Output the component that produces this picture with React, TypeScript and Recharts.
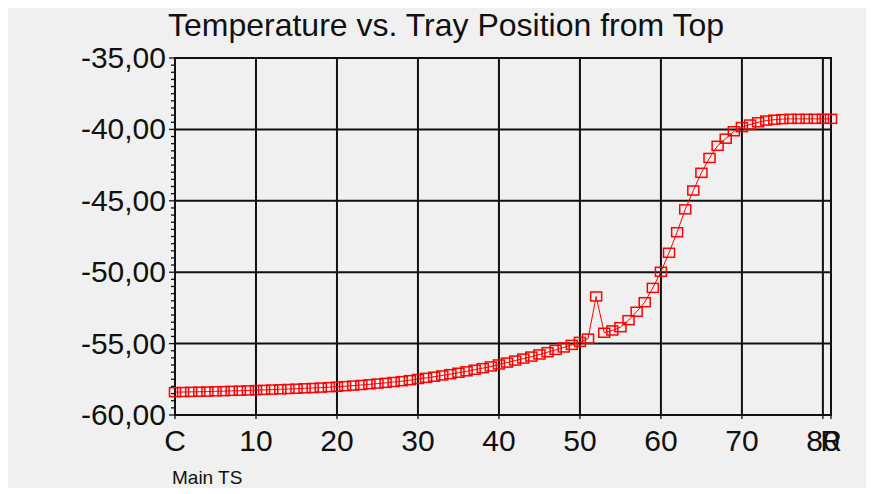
import React from "react";
import { LineChart, Line, XAxis, YAxis, ReferenceLine, ReferenceArea } from "recharts";

const title = "Temperature vs. Tray Position from Top";
const footLabel = "Main TS";

// Temperature per tray position (0 = C, 81 = R)
const temps: number[] = [
  -58.40, -58.39, -58.38, -58.37, -58.36, -58.34, -58.33, -58.31, -58.30, -58.28,
  -58.26, -58.24, -58.22, -58.20, -58.18, -58.16, -58.13, -58.11, -58.08, -58.05,
  -58.02, -57.98, -57.94, -57.90, -57.85, -57.80, -57.75, -57.69, -57.63, -57.56,
  -57.48, -57.40, -57.32, -57.23, -57.14, -57.04, -56.94, -56.83, -56.72, -56.60,
  -56.46, -56.33, -56.19, -56.05, -55.91, -55.76, -55.60, -55.44, -55.27, -55.09,
  -54.88, -54.65, -51.70, -54.24, -54.08, -53.85, -53.36, -52.77, -52.10, -51.10,
  -49.97, -48.64, -47.20, -45.60, -44.28, -43.04, -42.00, -41.15, -40.65, -40.13,
  -39.84, -39.66, -39.50, -39.38, -39.32, -39.28, -39.26, -39.26, -39.26, -39.26,
  -39.26, -39.26,
];

const xTicks = [0, 10, 20, 30, 40, 50, 60, 70, 80, 81];
const xTickNames: Record<number, string> = { 0: "C", 81: "R" };
const yMajorTicks = [-60, -55, -50, -45, -40, -35];
const yMinorStep = 0.5;
const xGrid = [10, 20, 30, 40, 50, 60, 70, 80];
const yGrid = [-55, -50, -45, -40];

const data = temps.map((t, i) => ({ tray: i, temp: t }));

const yTicks: number[] = [];
for (let v = -60; v <= -35 + 1e-9; v += yMinorStep) yTicks.push(Math.round(v * 10) / 10);

const FONT = "'Liberation Sans', Arial, sans-serif";
const PLOT_LEFT = 167;
const PLOT_BOTTOM = 407;

const renderYTick = (props: any) => {
  const { y, payload } = props;
  const x = PLOT_LEFT;
  const v = payload.value as number;
  const major = yMajorTicks.some((m) => Math.abs(m - v) < 1e-6);
  return (
    <g key={"yt" + v}>
      <line x1={x - (major ? 6 : 4)} x2={x} y1={y} y2={y} stroke="#111" strokeWidth={1.3} />
      {major && (
        <text x={x - 9} y={y} dy={10} textAnchor="end" fontSize={30} fontFamily={FONT} fill="#111">
          {v.toFixed(2).replace(".", ",")}
        </text>
      )}
    </g>
  );
};

const renderXTick = (props: any) => {
  const { x, payload } = props;
  const y = PLOT_BOTTOM;
  const v = payload.value as number;
  const label = xTickNames[v] ?? String(v);
  return (
    <g key={"xt" + v}>
      <line x1={x} x2={x} y1={y} y2={y + 4} stroke="#111" strokeWidth={1.3} />
      <text x={x} y={y + 36} textAnchor="middle" fontSize={30} fontFamily={FONT} fill="#111">
        {label}
      </text>
    </g>
  );
};

const renderDot = (props: any) => {
  const { cx, cy, index } = props;
  if (cx == null || cy == null) return <g key={"d" + index} />;
  return (
    <rect key={"d" + index} x={cx - 5.5} y={cy - 4.5} width={11} height={9} fill="none" stroke="#ff0000" strokeWidth={1.5} />
  );
};

export default function App() {
  return (
    <div style={{ position: "relative", width: 858, height: 480, background: "#f0f0f0", fontFamily: FONT }}>
      <div
        style={{
          position: "absolute",
          left: 438,
          top: 1,
          transform: "translateX(-50%)",
          whiteSpace: "nowrap",
          fontSize: 32,
          lineHeight: "32px",
          color: "#111",
        }}
      >
        {title}
      </div>
      <div style={{ position: "absolute", left: 164, top: 460, fontSize: 19, lineHeight: "19px", color: "#111" }}>
        {footLabel}
      </div>
      <LineChart width={858} height={480} data={data} margin={{ top: 50, right: 35, bottom: 13, left: 7 }}>
        <XAxis
          dataKey="tray"
          type="number"
          domain={[0, 81]}
          ticks={xTicks}
          interval={0}
          height={60}
          tickSize={0}
          tickMargin={0}
          axisLine={false}
          tickLine={false}
          tick={renderXTick}
        />
        <YAxis
          type="number"
          domain={[-60, -35]}
          ticks={yTicks}
          interval={0}
          width={160}
          tickSize={0}
          tickMargin={0}
          axisLine={false}
          tickLine={false}
          tick={renderYTick}
        />
        {yGrid.map((v) => (
          <ReferenceLine key={"y" + v} y={v} stroke="#111" strokeWidth={2} />
        ))}
        {xGrid.map((v) => (
          <ReferenceLine key={"x" + v} x={v} stroke="#111" strokeWidth={2} />
        ))}
        <ReferenceArea x1={0} x2={81} y1={-60} y2={-35} fill="none" stroke="#111" strokeWidth={2} fillOpacity={0} />
        <Line
          dataKey="temp"
          stroke="#ff0000"
          strokeWidth={1}
          isAnimationActive={false}
          dot={renderDot}
          activeDot={false}
        />
      </LineChart>
    </div>
  );
}
